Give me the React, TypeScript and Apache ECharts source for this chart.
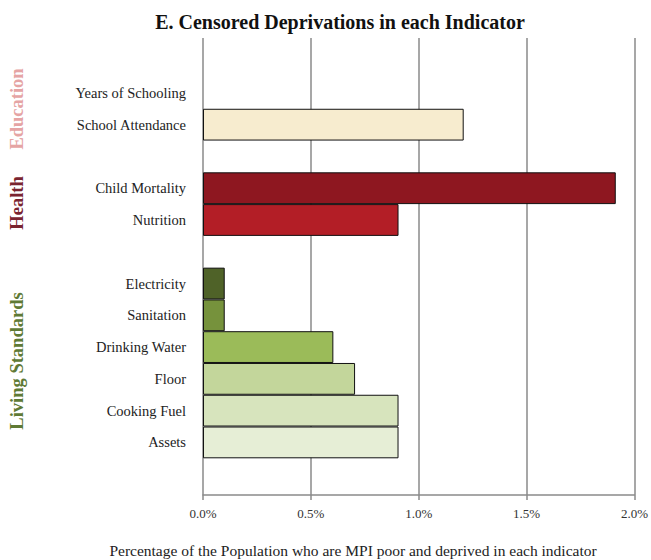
import React, { useEffect, useRef } from "react";
import * as echarts from "echarts";

const titleText = "E. Censored Deprivations in each Indicator";
const axisTitle = "Percentage of the Population who are MPI poor and deprived in each indicator";

const categories = [
  "Years of Schooling",
  "School Attendance",
  " ",
  "Child Mortality",
  "Nutrition",
  "  ",
  "Electricity",
  "Sanitation",
  "Drinking Water",
  "Floor",
  "Cooking Fuel",
  "Assets",
];

const values: (number | null)[] = [0, 1.2, null, 1.9, 0.9, null, 0.1, 0.1, 0.6, 0.7, 0.9, 0.9];

const barColors = [
  "#F7ECCF",
  "#F7ECCF",
  "#FFFFFF",
  "#8E1720",
  "#B31E26",
  "#FFFFFF",
  "#4F6228",
  "#76923C",
  "#9BBB59",
  "#C3D69B",
  "#D7E4BD",
  "#E6EED6",
];

const xTicks = [0, 0.5, 1.0, 1.5, 2.0];

const groups = [
  { label: "Education", color: "#E5A4A4", y: 109 },
  { label: "Health", color: "#7A2430", y: 203 },
  { label: "Living Standards", color: "#5F7A35", y: 361 },
];

const FONT = "'Liberation Serif', 'DejaVu Serif', serif";

export default function App() {
  const ref = useRef<HTMLDivElement>(null);
  useEffect(() => {
    if (!ref.current) return;
    const chart = echarts.init(ref.current, undefined, { renderer: "svg" });
    const xMin = xTicks[0];
    const xMax = xTicks[xTicks.length - 1];
    const step = xTicks[1] - xTicks[0];
    chart.setOption({
      animation: false,
      backgroundColor: "#ffffff",
      textStyle: { fontFamily: FONT },
      title: {
        text: titleText,
        left: 335,
        top: 7,
        textAlign: "center",
        textStyle: { fontFamily: FONT, fontSize: 20, fontWeight: "bold", color: "#111" },
      },
      grid: [
        { left: 203, right: 13.5, top: 77, bottom: 101.7, containLabel: false },
        { left: 203, right: 13.5, top: 38, bottom: 65, containLabel: false },
      ],
      xAxis: [
        { type: "value", gridIndex: 0, min: xMin, max: xMax, interval: step, show: false },
        {
          type: "value",
          gridIndex: 1,
          min: xMin,
          max: xMax,
          interval: step,
          axisLine: { show: true, lineStyle: { color: "#8a8a8a", width: 1.5 } },
          axisTick: { show: true, inside: false, length: 5, lineStyle: { color: "#8a8a8a", width: 1.5 } },
          splitLine: { show: true, lineStyle: { color: "#8a8a8a", width: 1.5 } },
          axisLabel: {
            margin: 12,
            fontFamily: FONT,
            fontSize: 13,
            color: "#333",
            formatter: (v: number) => v.toFixed(1) + "%",
          },
        },
      ],
      yAxis: [
        {
          type: "category",
          gridIndex: 0,
          inverse: true,
          data: categories,
          axisLine: { show: false },
          axisTick: { show: false },
          splitLine: { show: false },
          axisLabel: { margin: 17, fontFamily: FONT, fontSize: 14.5, color: "#222" },
        },
        { type: "value", gridIndex: 1, show: false, min: 0, max: 1 },
      ],
      series: [
        {
          type: "bar",
          xAxisIndex: 0,
          yAxisIndex: 0,
          barCategoryGap: "0%",
          z: 3,
          data: values.map((v, i) => ({
            value: v,
            itemStyle: {
              color: barColors[i],
              borderColor: "#111",
              borderWidth: v ? 1 : 0,
            },
          })),
        },
      ],
      graphic: [
        ...groups.map((g) => ({
          type: "text",
          x: 17,
          y: g.y,
          rotation: Math.PI / 2,
          style: {
            text: g.label,
            fill: g.color,
            font: `bold 18.5px ${FONT}`,
            textAlign: "center",
            textVerticalAlign: "middle",
          },
        })),
        {
          type: "text",
          x: 353,
          y: 550,
          style: {
            text: axisTitle,
            fill: "#222",
            font: `15.5px ${FONT}`,
            textAlign: "center",
            textVerticalAlign: "middle",
          },
        },
      ],
    });
    return () => chart.dispose();
  }, []);
  return <div ref={ref} style={{ position: "fixed", left: 0, top: 0, width: 651, height: 560 }} />;
}
